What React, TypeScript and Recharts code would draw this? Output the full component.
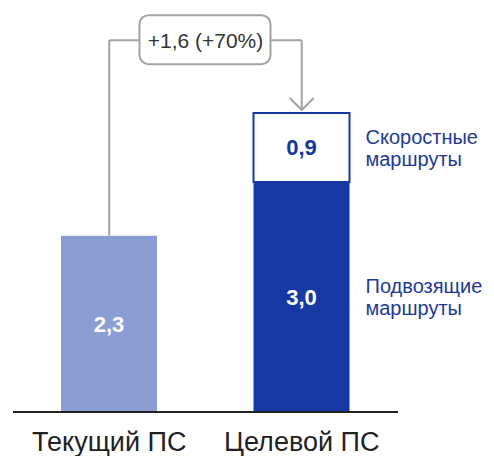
import { BarChart, Bar, XAxis, YAxis, LabelList, ReferenceLine } from "recharts";

// Парк подвижного состава: текущий и целевой, млн
const CATEGORIES = ["Текущий ПС", "Целевой ПС"];
const CURRENT = [2.3, null];
const FEEDER = [null, 3.0];
const EXPRESS = [null, 0.9];

const SERIES_NAMES = {
  feeder: ["Подвозящие", "маршруты"],
  express: ["Скоростные", "маршруты"],
};

// уровень горизонтальной перемычки над столбцами
const BRACKET_LEVEL = 4.85;

const LIGHT = "#8a9ed4";
const DARK = "#1538a2";
const TEXT_BLUE = "#1d3a96";
const GREY = "#a3a3a3";
const FONT = "'Liberation Sans', Arial, Helvetica, sans-serif";

const data = CATEGORIES.map((name, i) => ({
  name,
  current: CURRENT[i],
  feeder: FEEDER[i],
  express: EXPRESS[i],
}));

const currentTotal = CURRENT[0] as number;
const targetTotal = (FEEDER[1] as number) + (EXPRESS[1] as number);
const delta = targetTotal - currentTotal;

function fmt(v: number): string {
  return v.toFixed(1).replace(".", ",");
}

const changeLabel = `+${fmt(delta)} (+${Math.round((delta / currentTotal) * 100)}%)`;

// подпись серии справа от сегмента, в две строки
function SeriesNote({ lines }: { lines: string[] }) {
  return (props: any) => {
    if (props.value == null) return null;
    const vb = props.viewBox ?? props;
    const x = vb.x + vb.width + 16;
    const cy = vb.y + vb.height / 2;
    return (
      <g fill={TEXT_BLUE} fontSize={20} fontFamily={FONT}>
        <text x={x} y={cy - 4}>
          {lines[0]}
        </text>
        <text x={x} y={cy + 18}>
          {lines[1]}
        </text>
      </g>
    );
  };
}

function ChangeBox(props: any) {
  const vb = props.viewBox ?? {};
  const cx = vb.x + (vb.width ?? 0) / 2;
  const cy = vb.y + (vb.height ?? 0) / 2;
  return (
    <g>
      <rect
        x={cx - 66}
        y={cy - 25}
        width={131}
        height={49}
        rx={9}
        fill="#fff"
        stroke={GREY}
        strokeWidth={2}
      />
      <text
        x={cx}
        y={cy}
        dy="0.35em"
        textAnchor="middle"
        fill="#333"
        fontSize={21}
        fontFamily={FONT}
      >
        {changeLabel}
      </text>
    </g>
  );
}

function ArrowDown(props: any) {
  const { x1, y1, x2, y2 } = props;
  const tipY = Math.max(y1, y2) - 3;
  const topY = Math.min(y1, y2);
  return (
    <g>
      <line x1={x1} y1={topY} x2={x2} y2={tipY} stroke={GREY} strokeWidth={2} />
      <polyline
        points={`${x2 - 12},${tipY - 12} ${x2},${tipY} ${x2 + 12},${tipY - 12}`}
        fill="none"
        stroke={GREY}
        strokeWidth={2}
      />
    </g>
  );
}

export default function App() {
  const valueLabel = (v: any) => (v == null ? "" : fmt(Number(v)));
  return (
    <div
      style={{
        position: "absolute",
        left: 0,
        top: 0,
        width: 494,
        height: 456,
        background: "#fff",
        fontFamily: FONT,
      }}
    >
      <BarChart
        width={494}
        height={456}
        data={data}
        margin={{ top: 113, right: 96, bottom: 0, left: 13 }}
        barSize={96}
      >
        <XAxis
          dataKey="name"
          height={44}
          axisLine={{ stroke: "#222", strokeWidth: 2 }}
          tickLine={false}
          tickMargin={14}
          tick={{ fontSize: 27, fill: "#222", fontFamily: FONT }}
        />
        <YAxis hide domain={[0, targetTotal]} />
        <Bar dataKey="current" stackId="a" fill={LIGHT} isAnimationActive={false}>
          <LabelList
            dataKey="current"
            position="center"
            formatter={valueLabel}
            fill="#fff"
            fontSize={22}
            fontWeight="bold"
            fontFamily={FONT}
          />
        </Bar>
        <Bar dataKey="feeder" stackId="a" fill={DARK} isAnimationActive={false}>
          <LabelList
            dataKey="feeder"
            position="center"
            formatter={valueLabel}
            fill="#fff"
            fontSize={22}
            fontWeight="bold"
            fontFamily={FONT}
          />
          <LabelList dataKey="feeder" content={SeriesNote({ lines: SERIES_NAMES.feeder })} />
        </Bar>
        <Bar
          dataKey="express"
          stackId="a"
          fill="#fff"
          stroke={DARK}
          strokeWidth={2}
          isAnimationActive={false}
        >
          <LabelList
            dataKey="express"
            position="center"
            formatter={valueLabel}
            fill={DARK}
            fontSize={22}
            fontWeight="bold"
            fontFamily={FONT}
          />
          <LabelList dataKey="express" content={SeriesNote({ lines: SERIES_NAMES.express })} />
        </Bar>
        <ReferenceLine
          segment={[
            { x: CATEGORIES[0], y: currentTotal },
            { x: CATEGORIES[0], y: BRACKET_LEVEL },
          ]}
          stroke={GREY}
          strokeWidth={2}
          ifOverflow="visible"
        />
        <ReferenceLine
          segment={[
            { x: CATEGORIES[0], y: BRACKET_LEVEL },
            { x: CATEGORIES[1], y: BRACKET_LEVEL },
          ]}
          stroke={GREY}
          strokeWidth={2}
          ifOverflow="visible"
          label={<ChangeBox />}
        />
        <ReferenceLine
          segment={[
            { x: CATEGORIES[1], y: BRACKET_LEVEL },
            { x: CATEGORIES[1], y: targetTotal },
          ]}
          ifOverflow="visible"
          shape={ArrowDown}
        />
      </BarChart>
    </div>
  );
}
